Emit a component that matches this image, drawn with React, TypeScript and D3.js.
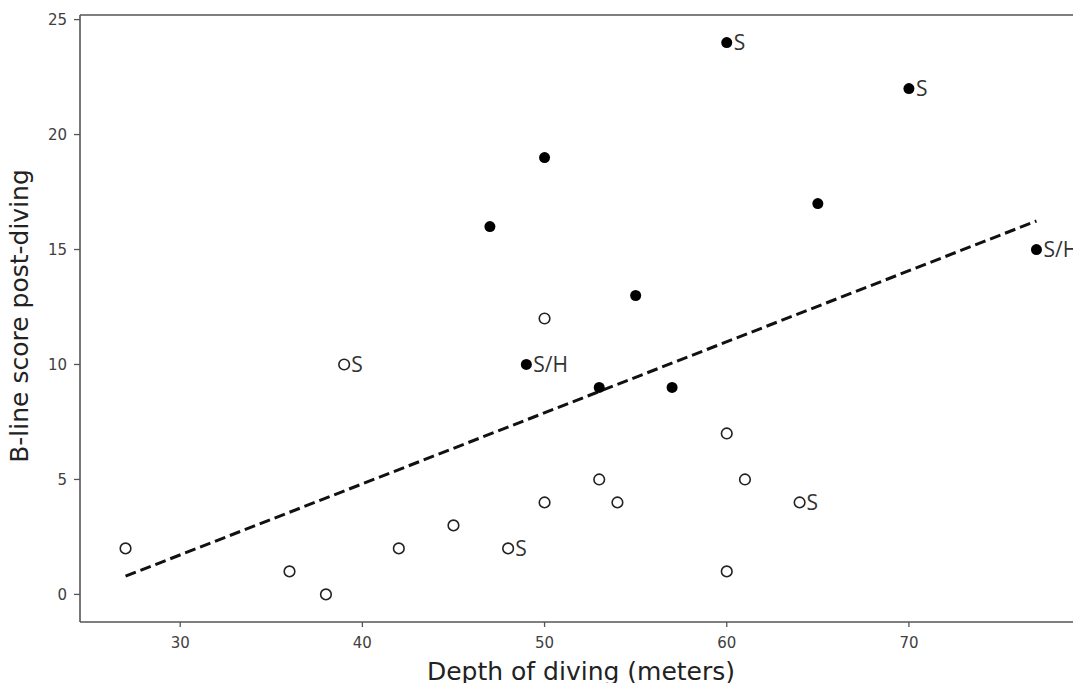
import React from "react";
import * as d3 from "d3";

// Data
const openDepth = [27, 36, 38, 39, 42, 45, 48, 50, 50, 53, 54, 60, 61, 64, 60];
const openScore = [2, 1, 0, 10, 2, 3, 2, 4, 12, 5, 4, 7, 5, 4, 1];
const openLabel = ["", "", "", "S", "", "", "S", "", "", "", "", "", "", "S", ""];

const filledDepth = [60, 70, 50, 47, 65, 77, 55, 49, 53, 57];
const filledScore = [24, 22, 19, 16, 17, 15, 13, 10, 9, 9];
const filledLabel = ["S", "S", "", "", "", "S/H", "", "S/H", "", ""];

const xTicks = [30, 40, 50, 60, 70];
const yTicks = [0, 5, 10, 15, 20, 25];

const W = 1073;
const H = 683;
const M = { left: 80, top: 15, right: 1082, bottom: 622 };

export default function App() {
  const allX = [...openDepth, ...filledDepth];
  const allY = [...openScore, ...filledScore];
  const xMin = d3.min(allX)!, xMax = d3.max(allX)!;
  const yMin = d3.min(allY)!, yMax = d3.max(allY)!;
  const xPad = (xMax - xMin) * 0.05;
  const yPad = (yMax - yMin) * 0.05;
  const x = d3.scaleLinear().domain([xMin - xPad, xMax + xPad]).range([M.left, M.right]);
  const y = d3.scaleLinear().domain([yMin - yPad, yMax + yPad]).range([M.bottom, M.top]);

  // least squares fit
  const mx = d3.mean(allX)!, my = d3.mean(allY)!;
  let sxy = 0, sxx = 0;
  allX.forEach((v, i) => { sxy += (v - mx) * (allY[i] - my); sxx += (v - mx) * (v - mx); });
  const slope = sxy / sxx;
  const icpt = my - slope * mx;
  const fit: [number, number][] = [[xMin, icpt + slope * xMin], [xMax, icpt + slope * xMax]];
  const line = d3.line<[number, number]>().x(d => x(d[0])).y(d => y(d[1]));

  const tickColor = "#404040";
  const spine = "#555";
  const font = "'Open Sans', sans-serif";
  const dv = "'DejaVu Sans', sans-serif";

  return (
    <div style={{ position: "fixed", left: 0, top: 0 }}>
      <svg width={W} height={H} style={{ display: "block", background: "#fff" }}>
        {/* spines */}
        <line x1={M.left} x2={M.left} y1={M.top} y2={M.bottom} stroke={spine} strokeWidth={1.6} />
        <line x1={M.left} x2={M.right} y1={M.bottom} y2={M.bottom} stroke={spine} strokeWidth={1.6} />
        <line x1={M.left} x2={M.right} y1={M.top} y2={M.top} stroke={spine} strokeWidth={1.6} />
        <line x1={M.right} x2={M.right} y1={M.top} y2={M.bottom} stroke={spine} strokeWidth={1.6} />

        {/* x ticks */}
        {xTicks.map(t => (
          <g key={"x" + t}>
            <line x1={x(t)} x2={x(t)} y1={M.bottom} y2={M.bottom + 5} stroke={spine} strokeWidth={1.3} />
            <text x={x(t)} y={M.bottom + 26} textAnchor="middle" fontFamily={dv} fontSize={15} fill={tickColor}>{t}</text>
          </g>
        ))}
        {/* y ticks */}
        {yTicks.map(t => (
          <g key={"y" + t}>
            <line x1={M.left - 6} x2={M.left} y1={y(t)} y2={y(t)} stroke={spine} strokeWidth={1.3} />
            <text x={M.left - 13} y={y(t)} dy="0.36em" textAnchor="end" fontFamily={dv} fontSize={15} fill={tickColor}>{t}</text>
          </g>
        ))}

        {/* axis labels */}
        <text x={(M.left + M.right) / 2} y={680} textAnchor="middle" fontFamily={dv} fontSize={25} fill="#222">Depth of diving (meters)</text>
        <text transform={`translate(28,316) rotate(-90)`} textAnchor="middle" fontFamily={dv} fontSize={25} fill="#222">B-line score post-diving</text>

        {/* regression line */}
        <path d={line(fit) || ""} fill="none" stroke="#111" strokeWidth={3} strokeDasharray="11,5" />

        {/* open points */}
        {openDepth.map((d, i) => (
          <g key={"o" + i}>
            <circle cx={x(d)} cy={y(openScore[i])} r={5.3} fill="#fff" stroke="#222" strokeWidth={1.6} />
            {openLabel[i] && (
              <text x={x(d) + 7} y={y(openScore[i])} dy="0.36em" fontFamily={font} fontSize={21} fill="#333">{openLabel[i]}</text>
            )}
          </g>
        ))}
        {/* filled points */}
        {filledDepth.map((d, i) => (
          <g key={"f" + i}>
            <circle cx={x(d)} cy={y(filledScore[i])} r={5.5} fill="#000" />
            {filledLabel[i] && (
              <text x={x(d) + 7} y={y(filledScore[i])} dy="0.36em" fontFamily={font} fontSize={21} fill="#333">{filledLabel[i]}</text>
            )}
          </g>
        ))}
      </svg>
    </div>
  );
}
